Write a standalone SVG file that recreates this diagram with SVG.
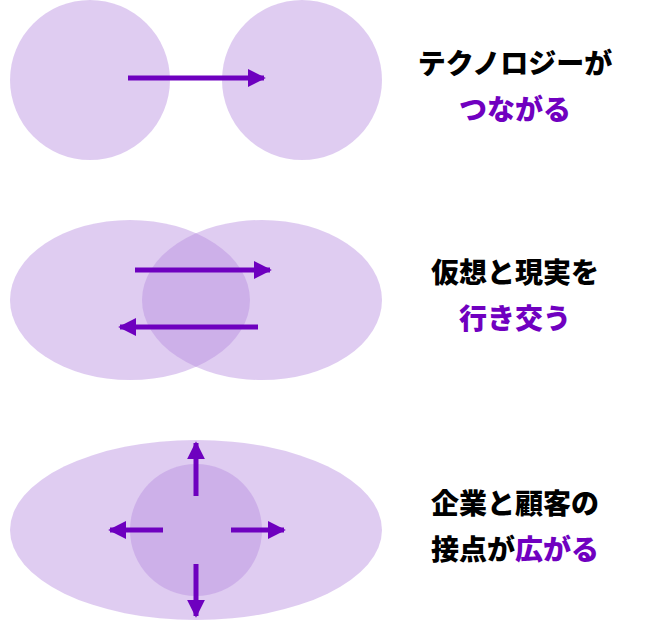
<svg xmlns="http://www.w3.org/2000/svg" width="660" height="620" viewBox="0 0 660 620">
<style>
.s{fill:#b98ee0;fill-opacity:0.45}
.a{stroke:#6e00bf;stroke-width:5;fill:none;marker-end:url(#m)}
text{font-family:"Noto Sans CJK JP",sans-serif;font-weight:900;font-size:28px;text-anchor:middle}
.p{fill:#7000c0}
</style>
<defs><marker id="m" viewBox="0 0 10 10" refX="9" refY="5" markerWidth="3.6" markerHeight="3.8" orient="auto"><path d="M0,0L10,5L0,10z" fill="#6e00bf"/></marker></defs>
<g id="row1"><circle class="s" cx="90" cy="80" r="80"/><circle class="s" cx="302" cy="80" r="80"/></g>
<g id="row2"><ellipse class="s" cx="130" cy="300" rx="120" ry="80"/><ellipse class="s" cx="262" cy="300" rx="120" ry="80"/></g>
<g id="row3"><ellipse class="s" cx="196" cy="530" rx="186" ry="90"/><circle class="s" cx="196" cy="530" r="66"/></g>
<g id="connectors">
<line class="a" x1="128" y1="78" x2="264" y2="78"/>
<line class="a" x1="135" y1="270" x2="270" y2="270"/>
<line class="a" x1="258" y1="327" x2="120" y2="327"/>
<line class="a" x1="196" y1="496" x2="196" y2="443"/>
<line class="a" x1="196" y1="564" x2="196" y2="616"/>
<line class="a" x1="163" y1="530" x2="110" y2="530"/>
<line class="a" x1="231" y1="530" x2="284" y2="530"/>
</g>
<g id="labels">
<text x="515" y="74">テクノロジーが</text>
<text x="515" y="120" class="p">つながる</text>
<text x="515" y="283">仮想と現実を</text>
<text x="515" y="329" class="p">行き交う</text>
<text x="515" y="514">企業と顧客の</text>
<text x="515" y="560">接点が<tspan class="p">広がる</tspan></text>
</g>
</svg>
